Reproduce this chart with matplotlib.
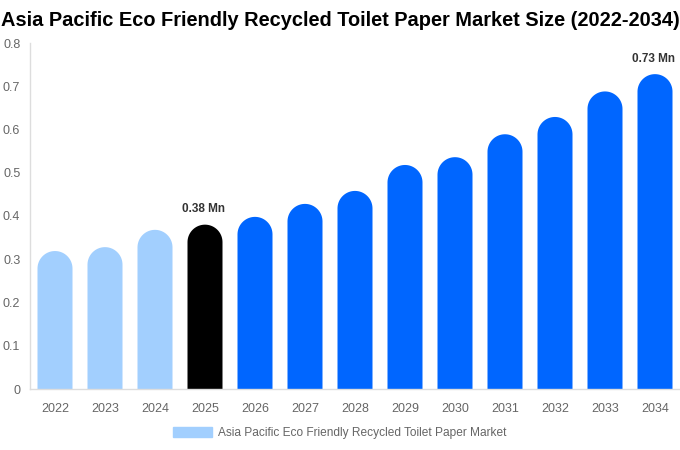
import matplotlib
matplotlib.use("Agg")
import numpy as np
import matplotlib.pyplot as plt
from matplotlib.patches import PathPatch, Patch
from matplotlib.path import Path

plt.rcParams['font.family'] = ['Liberation Sans', 'DejaVu Sans']

years = ["2022", "2023", "2024", "2025", "2026", "2027", "2028", "2029", "2030", "2031", "2032", "2033", "2034"]
values = [0.319, 0.328, 0.368, 0.38, 0.398, 0.428, 0.458, 0.518, 0.536, 0.589, 0.629, 0.688, 0.728]
labels = {3: "0.38 Mn", 12: "0.73 Mn"}
yticks = [0, 0.1, 0.2, 0.3, 0.4, 0.5, 0.6, 0.7, 0.8]
ytick_labels = ["0", "0.1", "0.2", "0.3", "0.4", "0.5", "0.6", "0.7", "0.8"]

light = "#a2cffe"
blue = "#0066ff"
colors = [light]*3 + ["#000000"] + [blue]*9

fig = plt.figure(figsize=(6.8, 4.5), dpi=100)
ax = fig.add_axes([30/680, (450-389)/450, 650/680, (389-43)/450])
ax.set_xlim(-0.5, len(years)-0.5)
ax.set_ylim(0, 0.8)

bw = 0.7
px_per_x = 650/len(years)
px_per_y = (389-43)/0.8
r = (bw*px_per_x/2)/px_per_y
xs = list(range(len(years)))
theta = np.linspace(np.pi, 0, 40)
for x, v, c in zip(xs, values, colors):
    pts = [(x - bw/2, 0), (x - bw/2, v - r)]
    pts += [(x + bw/2*np.cos(t), v - r + r*np.sin(t)) for t in theta]
    pts += [(x + bw/2, 0), (x - bw/2, 0)]
    ax.add_patch(PathPatch(Path(pts, closed=True), facecolor=c, edgecolor='none'))

for i, t in labels.items():
    ax.text(xs[i] - 0.04, values[i] + 0.022, t, ha='center', va='bottom', fontsize=8.5,
            fontweight='bold', color='#333333')

ax.set_xticks(xs)
ax.set_xticklabels(years, fontsize=9, color='#666666')
ax.set_yticks(yticks)
ax.set_yticklabels(ytick_labels, fontsize=9, color='#666666')
ax.tick_params(axis='x', length=0, pad=10)
ax.tick_params(axis='y', length=0, pad=7)
for s in ['top', 'right']:
    ax.spines[s].set_visible(False)
for s in ['left', 'bottom']:
    ax.spines[s].set_color('#dddddd')
    ax.spines[s].set_linewidth(1)

fig.text(0.5, 1-21/450, "Asia Pacific Eco Friendly Recycled Toilet Paper Market Size (2022-2034)",
         ha='center', va='center', fontsize=14.4, fontweight='bold', color='#000000')

fig.legend(handles=[Patch(color=light, label="Asia Pacific Eco Friendly Recycled Toilet Paper Market")],
           loc='center', bbox_to_anchor=(0.5, 1-433/450), frameon=False, fontsize=8.6,
           handlelength=3.3, handleheight=0.9, handletextpad=0.5, labelcolor='#666666')

fig.savefig("out.png", dpi=100)
